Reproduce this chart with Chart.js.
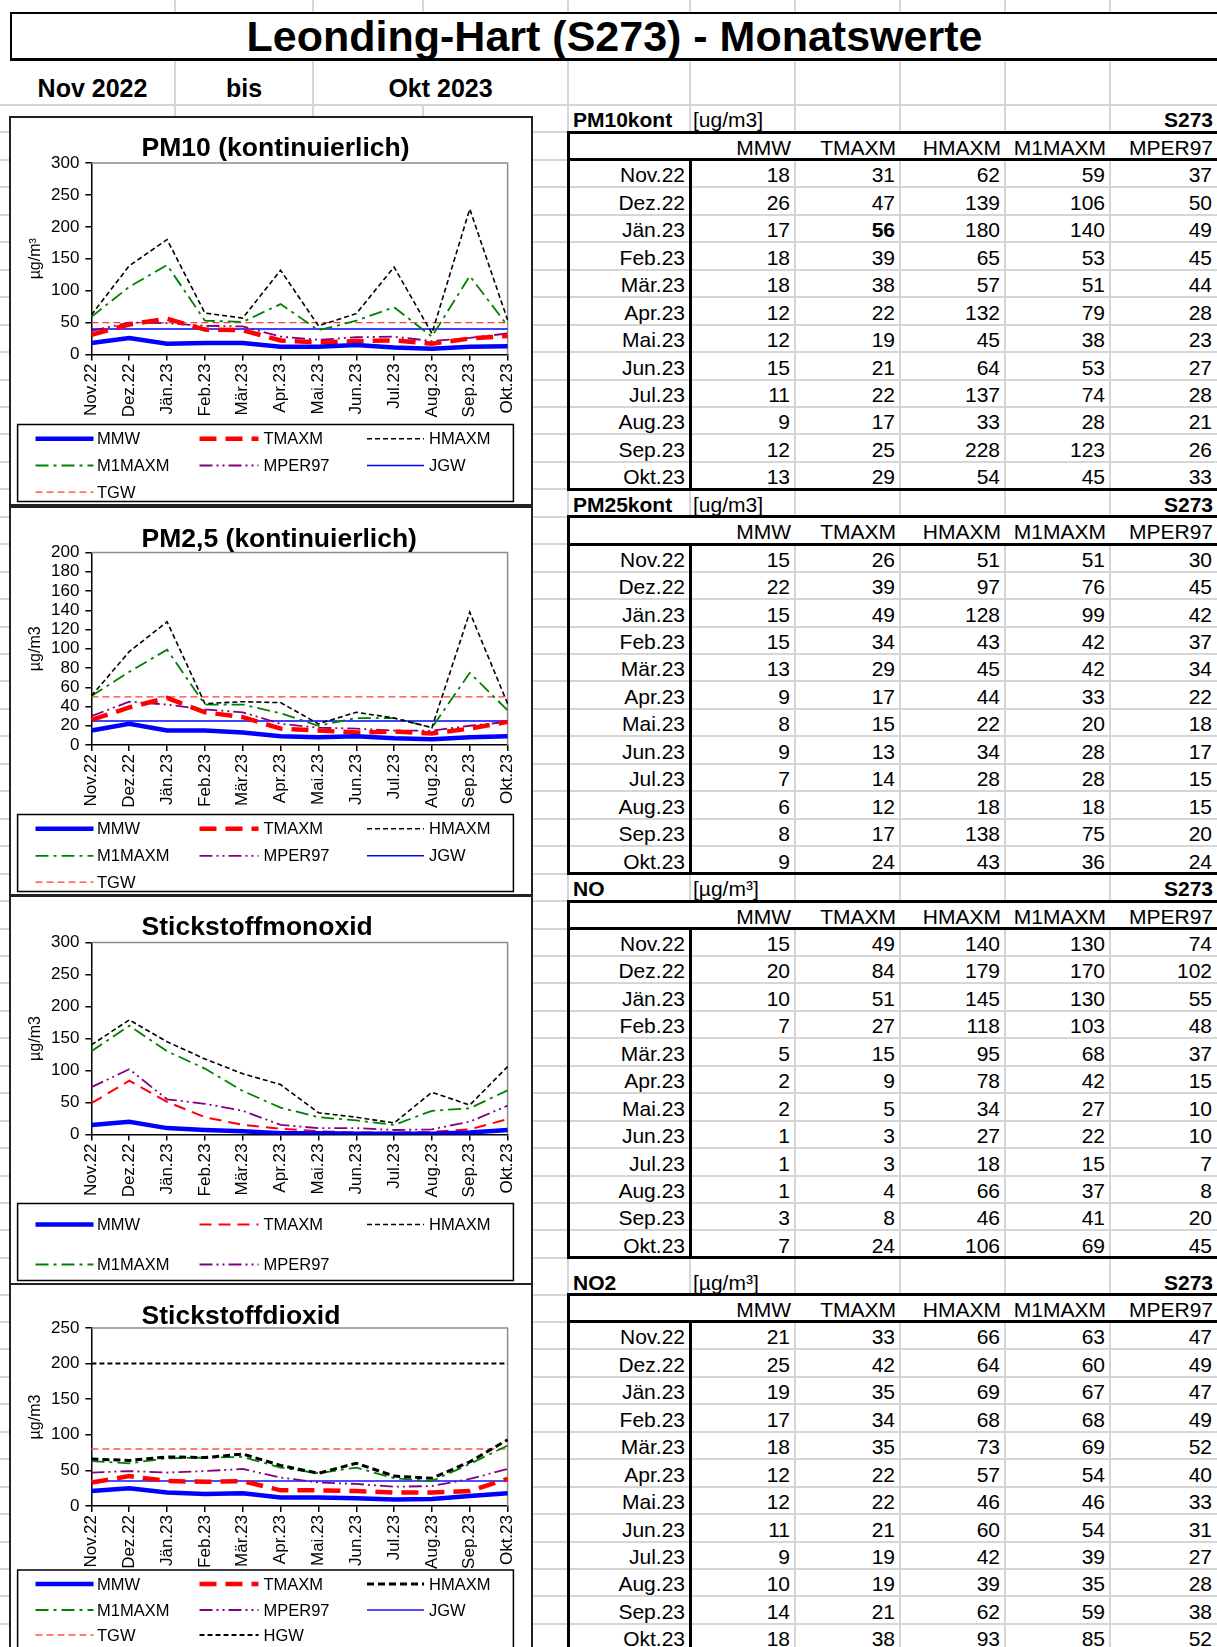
<!DOCTYPE html>
<html lang="de">
<head>
<meta charset="utf-8">
<title>Leonding-Hart (S273) - Monatswerte</title>
<script src="https://cdn.jsdelivr.net/npm/chart.js@4.4.1/dist/chart.umd.min.js"></script>
<style>
  html, body { margin: 0; padding: 0; background: #fff; }
  body { position: relative; width: 1217px; height: 1647px; overflow: hidden;
         font-family: "Liberation Sans", Arial, sans-serif; color: #000; }
  #sheet > div { position: absolute; box-sizing: border-box; }
  .grid-h { height: 2px; background: #d6d6d6; }
  .grid-v { width: 2px; background: #d6d6d6; }
  .cell { font-size: 21px; line-height: 22px; height: 22px; white-space: nowrap; padding: 0 5px; }
  .title { border-top: 2px solid #000; border-left: 2px solid #000; border-bottom: 3px solid #000;
           background: #fff; font-weight: bold; font-size: 43px; line-height: 44px; text-align: center; }
  .period { font-weight: bold; font-size: 25px; line-height: 26px; height: 26px; text-align: center; }
  .chartbox { border: 2px solid #222; background: #fff; }
  .chartbox canvas { display: block; }
  .thick { background: #000; }
  .headbox { border: 3px solid #000; background: #fff; }
</style>
</head>
<body>
<div id="sheet"></div>
<script>
// months (x axis + table rows)
const months = ['Nov.22', 'Dez.22', 'Jän.23', 'Feb.23', 'Mär.23', 'Apr.23', 'Mai.23', 'Jun.23', 'Jul.23', 'Aug.23', 'Sep.23', 'Okt.23'];
const seriesNames = ['MMW', 'TMAXM', 'HMAXM', 'M1MAXM', 'MPER97'];

// PM10 kontinuierlich
const pm10MMW    = [18, 26, 17, 18, 18, 12, 12, 15, 11, 9, 12, 13];
const pm10TMAXM  = [31, 47, 56, 39, 38, 22, 19, 21, 22, 17, 25, 29];
const pm10HMAXM  = [62, 139, 180, 65, 57, 132, 45, 64, 137, 33, 228, 54];
const pm10M1MAXM = [59, 106, 140, 53, 51, 79, 38, 53, 74, 28, 123, 45];
const pm10MPER97 = [37, 50, 49, 45, 44, 28, 23, 27, 28, 21, 26, 33];
const pm10JGW    = [40, 40, 40, 40, 40, 40, 40, 40, 40, 40, 40, 40];
const pm10TGW    = [50, 50, 50, 50, 50, 50, 50, 50, 50, 50, 50, 50];

// PM2,5 kontinuierlich
const pm25MMW    = [15, 22, 15, 15, 13, 9, 8, 9, 7, 6, 8, 9];
const pm25TMAXM  = [26, 39, 49, 34, 29, 17, 15, 13, 14, 12, 17, 24];
const pm25HMAXM  = [51, 97, 128, 43, 45, 44, 22, 34, 28, 18, 138, 43];
const pm25M1MAXM = [51, 76, 99, 42, 42, 33, 20, 28, 28, 18, 75, 36];
const pm25MPER97 = [30, 45, 42, 37, 34, 22, 18, 17, 15, 15, 20, 24];
const pm25JGW    = [25, 25, 25, 25, 25, 25, 25, 25, 25, 25, 25, 25];
const pm25TGW    = [50, 50, 50, 50, 50, 50, 50, 50, 50, 50, 50, 50];

// Stickstoffmonoxid
const noMMW    = [15, 20, 10, 7, 5, 2, 2, 1, 1, 1, 3, 7];
const noTMAXM  = [49, 84, 51, 27, 15, 9, 5, 3, 3, 4, 8, 24];
const noHMAXM  = [140, 179, 145, 118, 95, 78, 34, 27, 18, 66, 46, 106];
const noM1MAXM = [130, 170, 130, 103, 68, 42, 27, 22, 15, 37, 41, 69];
const noMPER97 = [74, 102, 55, 48, 37, 15, 10, 10, 7, 8, 20, 45];

// Stickstoffdioxid
const no2MMW    = [21, 25, 19, 17, 18, 12, 12, 11, 9, 10, 14, 18];
const no2TMAXM  = [33, 42, 35, 34, 35, 22, 22, 21, 19, 19, 21, 38];
const no2HMAXM  = [66, 64, 69, 68, 73, 57, 46, 60, 42, 39, 62, 93];
const no2M1MAXM = [63, 60, 67, 68, 69, 54, 46, 54, 39, 35, 59, 85];
const no2MPER97 = [47, 49, 47, 49, 52, 40, 33, 31, 27, 28, 38, 52];
const no2JGW    = [35, 35, 35, 35, 35, 35, 35, 35, 35, 35, 35, 35];
const no2TGW    = [80, 80, 80, 80, 80, 80, 80, 80, 80, 80, 80, 80];
const no2HGW    = [200, 200, 200, 200, 200, 200, 200, 200, 200, 200, 200, 200];

// y axis ranges [max, step]
const pm10Axis = [300, 50];
const pm25Axis = [200, 20];
const noAxis   = [300, 50];
const no2Axis  = [250, 50];

const sheet = document.getElementById('sheet');

function put(cls, x, y, w, h, text, extra) {
    const d = document.createElement('div');
    d.className = cls;
    d.style.left = x + 'px';
    d.style.top = y + 'px';
    if (w !== null) d.style.width = w + 'px';
    if (h !== null) d.style.height = h + 'px';
    if (text !== undefined && text !== null) d.textContent = text;
    if (extra) Object.assign(d.style, extra);
    sheet.appendChild(d);
    return d;
}

// text sits on the bottom of its spreadsheet cell
function cell(text, x1, x2, bottom, align, bold, pad) {
    const extra = { textAlign: align, fontWeight: bold ? 'bold' : 'normal' };
    if (pad !== undefined) {
        if (align === 'left') extra.paddingLeft = pad + 'px';
        else extra.paddingRight = pad + 'px';
    }
    return put('cell', x1, bottom - 23, x2 - x1, null, text, extra);
}

// ---- table layout ----
const ROW_H = 27.45;
const COLS = [568, 690, 795, 900, 1005, 1110, 1217];
const tables = [
    { name: 'PM10kont', unit: '[ug/m3]', headH: ROW_H, rows: [pm10MMW, pm10TMAXM, pm10HMAXM, pm10M1MAXM, pm10MPER97] },
    { name: 'PM25kont', unit: '[ug/m3]', headH: ROW_H, rows: [pm25MMW, pm25TMAXM, pm25HMAXM, pm25M1MAXM, pm25MPER97] },
    { name: 'NO', unit: '[µg/m³]', headH: ROW_H, rows: [noMMW, noTMAXM, noHMAXM, noM1MAXM, noMPER97] },
    { name: 'NO2', unit: '[µg/m³]', headH: 36.6, rows: [no2MMW, no2TMAXM, no2HMAXM, no2M1MAXM, no2MPER97] }
];
// [table, column, month] of bold cells
const boldCells = [[0, 1, 2]];

const rowLines = [105];
let yPos = 105;
const blocks = tables.map(t => {
    const b = { headTop: yPos, colTop: yPos + t.headH };
    b.dataTop = b.colTop + ROW_H;
    b.dataBot = b.dataTop + 12 * ROW_H;
    rowLines.push(b.colTop, b.dataTop);
    for (let i = 1; i <= 12; i++) rowLines.push(b.dataTop + i * ROW_H);
    yPos = b.dataBot;
    return b;
});

// spreadsheet gridlines
rowLines.forEach(ry => put('grid-h', 0, ry - 1, 1217, null));
[175, 313, 568, 690, 795, 900, 1005, 1110].forEach(x => put('grid-v', x - 1, 0, null, 1647));
put('grid-v', 422, 0, null, 12);
put('grid-v', 422, 105, null, 1542);

// header rows
put('title', 10, 12, 1207, 49, 'Leonding-Hart (S273) - Monatswerte');
put('period', 10, 75, 165, null, 'Nov 2022');
put('period', 175, 75, 138, null, 'bis');
put('period', 313, 75, 255, null, 'Okt 2023');

tables.forEach((t, ti) => {
    const b = blocks[ti];
    cell(t.name, COLS[0], COLS[1], b.colTop, 'left', true, 5);
    cell(t.unit, COLS[1], COLS[3], b.colTop, 'left', false, 3);
    cell('S273', COLS[5], COLS[6], b.colTop, 'right', true, 4);

    put('headbox', COLS[0] - 1.5, b.colTop - 1.5, COLS[6] - COLS[0] + 6, ROW_H + 3);
    seriesNames.forEach((n, c) => cell(n, COLS[c + 1], COLS[c + 2], b.dataTop, 'right', false, 4));

    months.forEach((m, r) => {
        const bottom = b.dataTop + (r + 1) * ROW_H;
        cell(m, COLS[0], COLS[1], bottom, 'right', false, 5);
        t.rows.forEach((vals, c) => {
            const bold = boldCells.some(bc => bc[0] === ti && bc[1] === c && bc[2] === r);
            cell(String(vals[r]), COLS[c + 1], COLS[c + 2], bottom, 'right', bold, 5);
        });
    });

    put('thick', COLS[0] - 1.5, b.dataTop, 3, b.dataBot - b.dataTop + 1.5);
    put('thick', COLS[1] - 1.5, b.dataTop, 3, b.dataBot - b.dataTop + 1.5);
    put('thick', COLS[0] - 1.5, b.dataBot - 1.5, COLS[6] - COLS[0] + 6, 3);
});

// ---- charts ----
Chart.defaults.font.family = '"Liberation Sans", Arial, sans-serif';
Chart.defaults.color = '#000';

const BOX_W = 524, BOX_H = 390;
const CW = BOX_W - 4, CH = BOX_H - 4;
const PAD_LEFT = 10.5;
const PLOT_LEFT = 80.4, PLOT_RIGHT = 497.6, X_AXIS_H = 66;
const LEG_COLS = [[24.5, 82.5, 86], [188.5, 247.5, 252.5], [356, 413, 418]];

const lineStyles = {
    MMW:    { borderColor: '#0000ff', borderWidth: 4.5, borderDash: [] },
    TMAXM:  { borderColor: '#ff0000', borderWidth: 4.5, borderDash: [17, 9] },
    HMAXM:  { borderColor: '#000000', borderWidth: 1.6, borderDash: [5, 3] },
    M1MAXM: { borderColor: '#008000', borderWidth: 1.8, borderDash: [13, 5, 3, 5] },
    MPER97: { borderColor: '#800080', borderWidth: 1.8, borderDash: [13, 4, 2, 4, 2, 4] },
    JGW:    { borderColor: '#0000ff', borderWidth: 1.5, borderDash: [] },
    TGW:    { borderColor: '#ff3b3b', borderWidth: 1.3, borderDash: [7, 4] },
    HGW:    { borderColor: '#000000', borderWidth: 2, borderDash: [5, 3] }
};

// title, grey plot frame and the boxed legend
const sheetDecor = {
    id: 'sheetDecor',
    beforeDatasetsDraw(chart) {
        const { ctx, chartArea: a } = chart;
        ctx.save();
        ctx.strokeStyle = '#8c8c8c';
        ctx.lineWidth = 1.5;
        ctx.beginPath();
        ctx.moveTo(a.left, a.top);
        ctx.lineTo(a.right, a.top);
        ctx.lineTo(a.right, a.bottom);
        ctx.stroke();
        ctx.restore();
    },
    afterDraw(chart, args, opts) {
        const ctx = chart.ctx;
        ctx.save();
        ctx.fillStyle = '#000';
        ctx.textBaseline = 'middle';
        ctx.textAlign = 'left';
        ctx.font = 'bold 26.5px "Liberation Sans", Arial, sans-serif';
        ctx.fillText(opts.title, 130.6, opts.titleY);

        const L = opts.legend;
        ctx.fillStyle = '#fff';
        ctx.fillRect(L.left, L.top, L.right - L.left, L.bottom - L.top);
        ctx.strokeStyle = '#000';
        ctx.lineWidth = 1.5;
        ctx.strokeRect(L.left, L.top, L.right - L.left, L.bottom - L.top);

        ctx.font = '16.5px "Liberation Sans", Arial, sans-serif';
        chart.data.datasets.forEach((ds, i) => {
            const c = LEG_COLS[i % 3];
            const y = L.rows[Math.floor(i / 3)];
            ctx.strokeStyle = ds.borderColor;
            ctx.lineWidth = ds.borderWidth;
            ctx.setLineDash(ds.borderDash);
            ctx.beginPath();
            ctx.moveTo(c[0], y);
            ctx.lineTo(c[1], y);
            ctx.stroke();
            ctx.setLineDash([]);
            ctx.fillStyle = '#000';
            ctx.fillText(ds.label, c[2], y + 1);
        });
        ctx.restore();
    }
};

function makeChart(def) {
    const box = put('chartbox', 9, def.top, BOX_W, BOX_H);
    const canvas = document.createElement('canvas');
    canvas.width = CW;
    canvas.height = CH;
    box.appendChild(canvas);

    const datasets = def.series.map(([name, values]) => Object.assign({
        label: name,
        data: values,
        fill: false,
        tension: 0,
        pointRadius: 0,
        borderCapStyle: 'butt'
    }, lineStyles[name], (def.override || {})[name]));

    return new Chart(canvas, {
        type: 'line',
        data: { labels: months, datasets: datasets },
        options: {
            responsive: false,
            animation: false,
            devicePixelRatio: 1,
            layout: {
                padding: { left: PAD_LEFT, top: def.plotTop, right: CW - PLOT_RIGHT, bottom: CH - def.zero - X_AXIS_H }
            },
            plugins: {
                legend: { display: false },
                tooltip: { enabled: false },
                sheetDecor: {
                    title: def.title,
                    titleY: def.titleY,
                    legend: { left: 6.6, right: 502.4, top: def.legTop, bottom: def.legBottom, rows: def.legRows }
                }
            },
            scales: {
                x: {
                    offset: false,
                    grid: { drawOnChartArea: false, tickLength: 6, color: '#000', lineWidth: 1.5 },
                    border: { display: true, color: '#000', width: 1.5 },
                    ticks: { autoSkip: false, minRotation: 90, maxRotation: 90, padding: 3, color: '#000', font: { size: 17 } },
                    afterFit: scale => { scale.height = X_AXIS_H; }
                },
                y: {
                    min: 0,
                    max: def.axis[0],
                    ticks: { stepSize: def.axis[1], autoSkip: false, padding: 6, color: '#000', font: { size: 17 } },
                    grid: { drawOnChartArea: false, tickLength: 6, color: '#000', lineWidth: 1.5 },
                    border: { display: true, color: '#000', width: 1.5 },
                    title: { display: true, text: def.unit, color: '#000', font: { size: 16 }, padding: { top: 4, bottom: 0 } },
                    afterFit: scale => { scale.width = PLOT_LEFT - PAD_LEFT; }
                }
            }
        },
        plugins: [sheetDecor]
    });
}

makeChart({
    top: 116, title: 'PM10 (kontinuierlich)', unit: 'µg/m³', axis: pm10Axis,
    series: [['MMW', pm10MMW], ['TMAXM', pm10TMAXM], ['HMAXM', pm10HMAXM], ['M1MAXM', pm10M1MAXM],
             ['MPER97', pm10MPER97], ['JGW', pm10JGW], ['TGW', pm10TGW]],
    plotTop: 45, zero: 236.5, titleY: 31,
    legTop: 306.5, legBottom: 383.5, legRows: [320.8, 347.5, 374.2]
});

makeChart({
    top: 505.5, title: 'PM2,5 (kontinuierlich)', unit: 'µg/m3', axis: pm25Axis,
    series: [['MMW', pm25MMW], ['TMAXM', pm25TMAXM], ['HMAXM', pm25HMAXM], ['M1MAXM', pm25M1MAXM],
             ['MPER97', pm25MPER97], ['JGW', pm25JGW], ['TGW', pm25TGW]],
    plotTop: 44.5, zero: 237, titleY: 31.5,
    legTop: 306.5, legBottom: 383.5, legRows: [320.8, 347.8, 374.2]
});

makeChart({
    top: 894.5, title: 'Stickstoffmonoxid', unit: 'µg/m3', axis: noAxis,
    series: [['MMW', noMMW], ['TMAXM', noTMAXM], ['HMAXM', noHMAXM], ['M1MAXM', noM1MAXM], ['MPER97', noMPER97]],
    override: { TMAXM: { borderWidth: 2, borderDash: [12, 7] } },
    plotTop: 45.5, zero: 237.5, titleY: 31,
    legTop: 306.5, legBottom: 383.5, legRows: [327.5, 367.5]
});

makeChart({
    top: 1283, title: 'Stickstoffdioxid', unit: 'µg/m3', axis: no2Axis,
    series: [['MMW', no2MMW], ['TMAXM', no2TMAXM], ['HMAXM', no2HMAXM], ['M1MAXM', no2M1MAXM],
             ['MPER97', no2MPER97], ['JGW', no2JGW], ['TGW', no2TGW], ['HGW', no2HGW]],
    override: {
        HMAXM: { borderWidth: 3, borderDash: [7, 4] },
        JGW: { borderColor: '#4d4dff', borderWidth: 2 },
        TGW: { borderColor: '#ff5050', borderWidth: 1.5 }
    },
    plotTop: 43, zero: 221, titleY: 32,
    legTop: 285, legBottom: 384, legRows: [299, 325, 350]
});
</script>
</body>
</html>
